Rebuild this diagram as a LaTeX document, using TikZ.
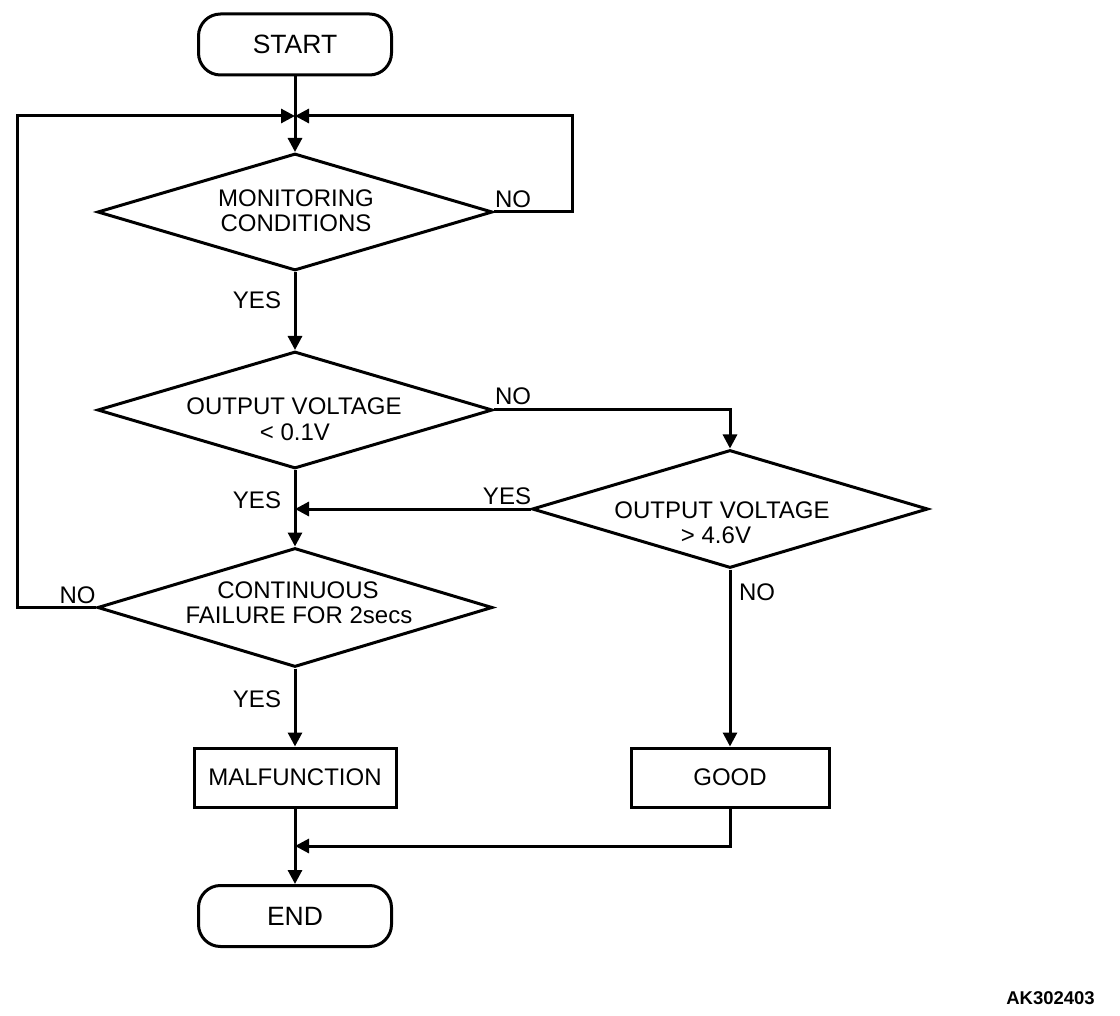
\documentclass[tikz,border=0pt]{standalone}
\usepackage{fontspec}
\setmainfont{Liberation Sans}
\usetikzlibrary{shapes.geometric,arrows.meta}
\begin{document}
\begin{tikzpicture}[x=1pt,y=-1pt,
  every node/.style={font=\fontsize{24}{25}\selectfont},
  ln/.style={line width=3pt},
  arr/.style={ln,-{Triangle[length=14pt,width=14pt]}},
  term/.style={draw,line width=3pt,rounded corners=22pt,minimum width=193pt,minimum height=61pt,inner sep=0pt,font=\fontsize{26.5}{27}\selectfont},
  proc/.style={draw,line width=3pt,minimum width=200pt,minimum height=59pt,inner sep=0pt},
  dec/.style={draw,diamond,line width=3pt,minimum width=395pt,minimum height=117pt,inner sep=0pt},
  txt/.style={anchor=base,inner sep=0pt},
]
\useasboundingbox (0,0) rectangle (1120,1016);
\fill[white] (0,0) rectangle (1120,1016);

% terminals and process boxes
\node[term] (start) at (295,44.5) {START};
\node[proc,minimum width=202pt] (mal) at (295,777.5) {MALFUNCTION};
\node[proc,minimum width=198pt] (good) at (730,777.5) {GOOD};
\node[term] (end) at (295,916) {END};

% decisions
\node[dec] (d1) at (295,212) {};
\node[dec] (d2) at (295,410) {};
\node[dec,minimum width=396pt,minimum height=118pt] (d3) at (730,509) {};
\node[dec,minimum height=119pt] (d4) at (295,607.5) {};

% decision texts
\node[txt] (t1a) at (296,207) {MONITORING};
\node[txt] (t1b) at (296,232) {CONDITIONS};
\node[txt] (t2a) at (294,415) {OUTPUT VOLTAGE};
\node[txt] (t2b) at (295,440) {< 0.1V};
\node[txt] (t3a) at (722,518) {OUTPUT VOLTAGE};
\node[txt] (t3b) at (716,543) {> 4.6V};
\node[txt] (t4a) at (298,598) {CONTINUOUS};
\node[txt] (t4b) at (299,623) {FAILURE FOR 2secs};

% branch labels
\node[txt] (y1) at (257,309) {YES};
\node[txt] (y2) at (257,508) {YES};
\node[txt] (y3) at (257,707) {YES};
\node[txt] (y4) at (507,504) {YES};
\node[txt] (n1) at (513,208) {NO};
\node[txt] (n2) at (513,405) {NO};
\node[txt] (n3) at (757,600) {NO};
\node[txt] (n4) at (77.5,603) {NO};

\node[anchor=base east,inner sep=0pt,font=\fontsize{18.5}{20}\selectfont\bfseries] (code) at (1095,1004) {AK302403};

% connectors
\coordinate (j) at (295,116);
\coordinate (rx) at (572,116);
\coordinate (lx) at (17,116);
\coordinate (gm) at (730,846);
\draw[arr] (start.south) -- (d1.north);
\draw[arr] (d1.east) -| (rx) -- (j);
\draw[arr] (d4.west) -| (lx) -- (j);
\draw[arr] (d1.south) -- (d2.north);
\draw[arr] (d2.south) -- (d4.north);
\draw[arr] (d2.east) -| (d3.north);
\draw[arr] (d3.west) -- (d3.west -| d2.south);
\draw[arr] (d3.south) -- (good.north);
\draw[arr] (d4.south) -- (mal.north);
\draw[arr] (mal.south) -- (end.north);
\draw[arr] (good.south) -- (gm) -- (gm -| mal.south);
\end{tikzpicture}
\end{document}
